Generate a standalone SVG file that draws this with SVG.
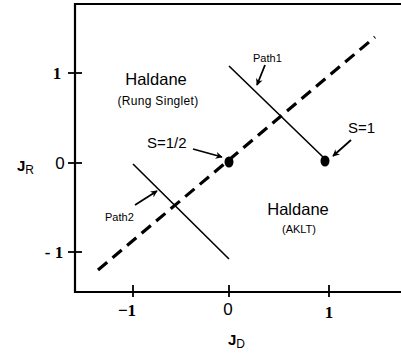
<svg xmlns="http://www.w3.org/2000/svg" width="401" height="354" viewBox="0 0 401 354">
<defs>
<marker id="ah" viewBox="0 0 10 10" refX="9" refY="5" markerWidth="7" markerHeight="7" markerUnits="userSpaceOnUse" orient="auto">
<path d="M0,0 L10,5 L0,10 L3,5 Z" fill="#000"/>
</marker>
</defs>
<style>
.ax{stroke:#000;stroke-width:2.2;fill:none}
.tk{stroke:#000;stroke-width:1.8}
.num{font-family:"Liberation Serif",serif;font-size:17px;fill:#000;text-anchor:middle;font-weight:bold}
.lab{font-family:"Liberation Sans",sans-serif;fill:#000}
.ptr{stroke:#000;stroke-width:1.8;fill:none;marker-end:url(#ah)}
</style>
<rect width="401" height="354" fill="#fff"/>
<g id="axes">
<path class="ax" d="M401,4 H75 V292 H401"/>
<line class="tk" x1="68" y1="73" x2="82" y2="73"/>
<line class="tk" x1="68" y1="163" x2="82" y2="163"/>
<line class="tk" x1="68" y1="252" x2="82" y2="252"/>
<line class="tk" x1="133" y1="285" x2="133" y2="297"/>
<line class="tk" x1="229" y1="285" x2="229" y2="297"/>
<line class="tk" x1="329" y1="285" x2="329" y2="297"/>
<text class="num" x="57" y="79">1</text>
<text class="lab" x="60" y="169" font-size="17" text-anchor="middle">0</text>
<text class="num" x="54" y="258">- 1</text>
<text class="num" x="127" y="316">−1</text>
<text class="lab" x="228" y="315" font-size="17" text-anchor="middle">0</text>
<text class="num" x="329" y="318">1</text>
<text class="lab" x="17" y="171" font-size="15" font-weight="bold">J<tspan font-size="12" font-weight="normal" dy="3">R</tspan></text>
<text class="lab" x="228" y="345" font-size="15" font-weight="bold">J<tspan font-size="12" font-weight="normal" dy="3">D</tspan></text>
</g>
<g id="connectors">
<line x1="98" y1="270" x2="375" y2="37" stroke="#000" stroke-width="3.2" stroke-dasharray="12,7"/>
<line x1="229" y1="66" x2="323" y2="157" stroke="#000" stroke-width="1.6"/>
<line x1="133" y1="164" x2="229" y2="259" stroke="#000" stroke-width="1.6"/>
<line class="ptr" x1="193" y1="149" x2="222" y2="157"/>
<line class="ptr" x1="351" y1="140" x2="333" y2="156"/>
<line class="ptr" x1="265" y1="65" x2="257" y2="85"/>
<line class="ptr" x1="135" y1="205" x2="157" y2="191"/>
</g>
<g id="point-half">
<ellipse cx="229" cy="162" rx="4.5" ry="5.5" fill="#000"/>
<text class="lab" x="147" y="148" font-size="15">S=1/2</text>
</g>
<g id="point-one">
<ellipse cx="325" cy="161" rx="4.5" ry="5.5" fill="#000"/>
<text class="lab" x="348" y="133" font-size="15">S=1</text>
</g>
<g id="path1"><text class="lab" x="253" y="62" font-size="11">Path1</text></g>
<g id="path2"><text class="lab" x="105" y="221" font-size="11">Path2</text></g>
<g id="haldane-rung">
<text class="lab" x="156" y="85" font-size="16.5" text-anchor="middle">Haldane</text>
<text class="lab" x="158" y="105" font-size="12" letter-spacing="0.3" text-anchor="middle">(Rung Singlet)</text>
</g>
<g id="haldane-aklt">
<text class="lab" x="298" y="215" font-size="16.5" text-anchor="middle">Haldane</text>
<text class="lab" x="299" y="233" font-size="11" text-anchor="middle">(AKLT)</text>
</g>
</svg>
